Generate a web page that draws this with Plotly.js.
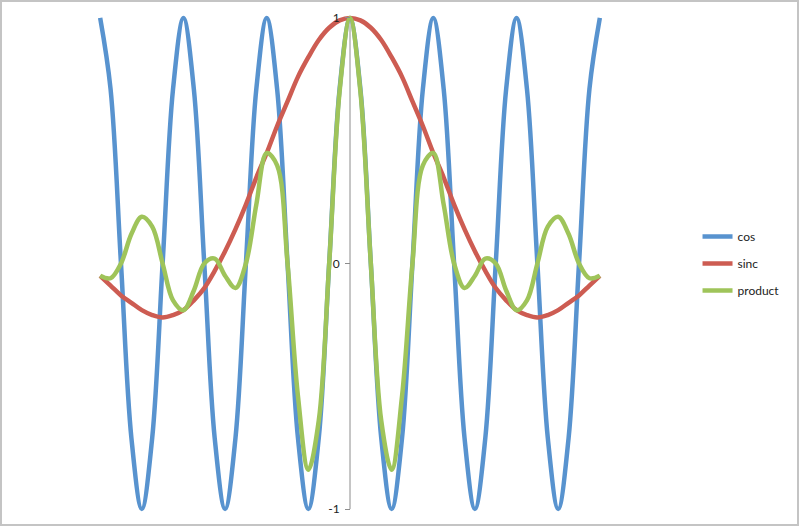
<!DOCTYPE html>
<html>
<head>
<meta charset="utf-8">
<script src="https://cdn.plot.ly/plotly-3.0.1.min.js"></script>
<style>
  html, body { margin: 0; padding: 0; background: #fff; }
  #wrap { position: relative; width: 799px; height: 527px; }
  #chart { width: 799px; height: 527px; }
  #frame {
    position: absolute; left: 0; top: 0; width: 799px; height: 526px;
    box-sizing: border-box; border: 2px solid #c4c4c4; pointer-events: none;
  }
</style>
</head>
<body>
<div id="wrap">
  <div id="chart"></div>
  <div id="frame"></div>
</div>
<script>
// x from -6 to 6, step 0.25
const xVals = [
  -6, -5.75, -5.5, -5.25, -5, -4.75, -4.5, -4.25, -4, -3.75, -3.5, -3.25,
  -3, -2.75, -2.5, -2.25, -2, -1.75, -1.5, -1.25, -1, -0.75, -0.5, -0.25,
  0,
  0.25, 0.5, 0.75, 1, 1.25, 1.5, 1.75, 2, 2.25, 2.5, 2.75, 3,
  3.25, 3.5, 3.75, 4, 4.25, 4.5, 4.75, 5, 5.25, 5.5, 5.75, 6
];

const cosVals = [
  1, 0.71, 0, -0.71, -1, -0.71, 0, 0.71,
  1, 0.71, 0, -0.71, -1, -0.71, 0, 0.71,
  1, 0.71, 0, -0.71, -1, -0.71, 0, 0.71,
  1, 0.71, 0, -0.71, -1, -0.71, 0, 0.71,
  1, 0.71, 0, -0.71, -1, -0.71, 0, 0.71,
  1, 0.71, 0, -0.71, -1, -0.71, 0, 0.71,
  1
];

const sincVals = [
  -0.05, -0.09, -0.13, -0.16, -0.19, -0.21, -0.22, -0.21, -0.19, -0.15, -0.10, -0.03,
  0.05, 0.14, 0.24, 0.35, 0.45, 0.56, 0.66, 0.76, 0.84, 0.91, 0.96, 0.99,
  1.00,
  0.99, 0.96, 0.91, 0.84, 0.76, 0.66, 0.56, 0.45, 0.35, 0.24, 0.14, 0.05,
  -0.03, -0.10, -0.15, -0.19, -0.21, -0.22, -0.21, -0.19, -0.16, -0.13, -0.09, -0.05
];

const productVals = [
  -0.05, -0.06, 0.00, 0.12, 0.19, 0.15, 0.00, -0.15, -0.19, -0.11, 0.00, 0.02,
  -0.05, -0.10, 0.00, 0.24, 0.45, 0.40, 0.00, -0.54, -0.84, -0.64, 0.00, 0.70,
  1.00,
  0.70, 0.00, -0.64, -0.84, -0.54, 0.00, 0.40, 0.45, 0.24, 0.00, -0.10, -0.05,
  0.02, 0.00, -0.11, -0.19, -0.15, 0.00, 0.15, 0.19, 0.12, 0.00, -0.06, -0.05
];

const seriesNames = ['cos', 'sinc', 'product'];
const seriesColors = ['#5893cf', '#cd5c52', '#9fc45a'];
const yTicks = [-1, 0, 1];

const allVals = [cosVals, sincVals, productVals];
const traces = allVals.map((vals, i) => ({
  x: xVals, y: vals, type: 'scatter', mode: 'lines',
  name: seriesNames[i], legendgroup: seriesNames[i],
  line: { color: seriesColors[i], width: 4.5, shape: 'spline', smoothing: 1 },
  hoverinfo: 'skip'
}));

const axisGray = '#8c8c8c';

Plotly.newPlot('chart', traces, {
  width: 799, height: 527,
  paper_bgcolor: '#fff', plot_bgcolor: 'rgba(0,0,0,0)',
  margin: { l: 96, r: 195, t: 14, b: 14 },
  font: { family: 'Lato, "Open Sans", sans-serif', size: 11, color: '#222' },
  xaxis: { range: [-6.1, 6.1], visible: false },
  yaxis: {
    range: [-1.016, 1.016], anchor: 'free', position: 0.5,
    tickvals: yTicks, ticktext: yTicks.map(String),
    ticks: 'outside', ticklen: 5, tickcolor: axisGray, ticklabelstandoff: 3,
    showline: false, showgrid: false, zeroline: false,
    tickfont: { size: 12, color: '#222' }
  },
  shapes: [{
    type: 'line', xref: 'x', yref: 'y', x0: 0, x1: 0, y0: -1, y1: 1,
    line: { color: axisGray, width: 1 }, layer: 'below'
  }],
  showlegend: true,
  legend: {
    xref: 'container', yref: 'container',
    x: 0.873, y: 0.5, xanchor: 'left', yanchor: 'middle',
    traceorder: 'grouped', tracegroupgap: 8,
    font: { size: 12, color: '#222' }, bgcolor: 'rgba(0,0,0,0)'
  }
}, { displayModeBar: false, staticPlot: true });
</script>
</body>
</html>
